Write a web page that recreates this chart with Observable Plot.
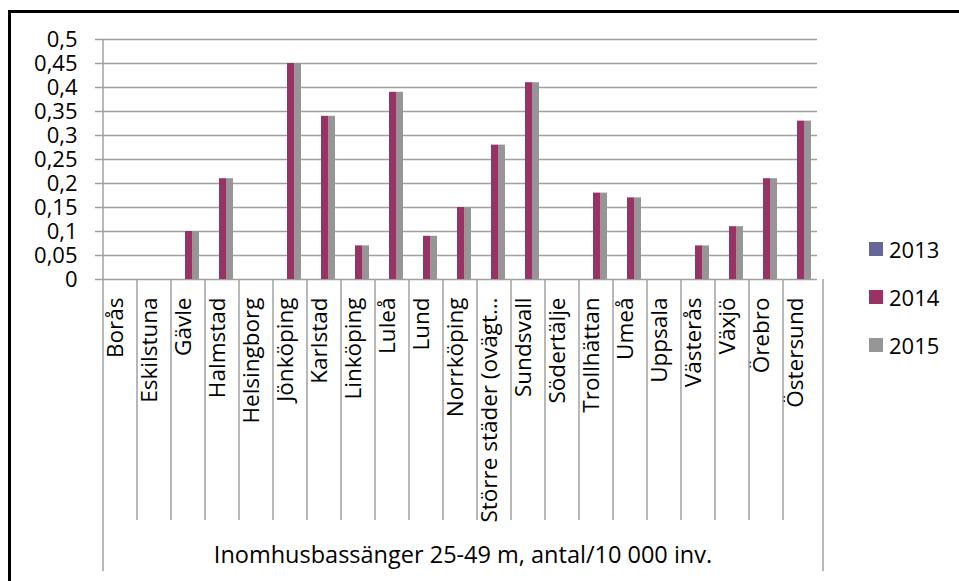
<!DOCTYPE html>
<html><head><meta charset="utf-8">
<script src="https://cdn.jsdelivr.net/npm/d3@7"></script>
<script src="https://cdn.jsdelivr.net/npm/@observablehq/plot@0.6"></script>
<style>
html,body{margin:0;padding:0;background:#fff}
svg{display:block}
</style>
</head><body><div id="chart"></div>
<script>
const categories = ["Borås","Eskilstuna","Gävle","Halmstad","Helsingborg","Jönköping","Karlstad","Linköping","Luleå","Lund","Norrköping","Större städer (ovägt…","Sundsvall","Södertälje","Trollhättan","Umeå","Uppsala","Västerås","Växjö","Örebro","Östersund"];
const series = ["2013","2014","2015"];
const values2013 = [0,0,0,0,0,0,0,0,0,0,0,0,0,0,0,0,0,0,0,0,0];
const values2014 = [0,0,0.10,0.21,0,0.45,0.34,0.07,0.39,0.09,0.15,0.28,0.41,0,0.18,0.17,0,0.07,0.11,0.21,0.33];
const values2015 = [0,0,0.10,0.21,0,0.45,0.34,0.07,0.39,0.09,0.15,0.28,0.41,0,0.18,0.17,0,0.07,0.11,0.21,0.33];
const yTicks = [0,0.05,0.1,0.15,0.2,0.25,0.3,0.35,0.4,0.45,0.5];
const groupLabel = "Inomhusbassänger 25-49 m, antal/10 000 inv.";
const seriesColors = ["#666699","#993366","#969696"];

const seriesValues = [values2013, values2014, values2015];
const data = categories.flatMap((c, i) => series.map((s, k) => ({cat: c, year: s, value: seriesValues[k][i]})));
const fmt = d => String(d).replace(".", ",");
const FONT = "'Open Sans', sans-serif";
const GRID = "#a0a0a0";

const chart = Plot.plot({
  width: 959, height: 581,
  marginLeft: 97, marginRight: 136, marginTop: 39, marginBottom: 302,
  style: {fontFamily: FONT, fontSize: "22px", color: "#000", background: "#fff", overflow: "visible"},
  fx: {domain: categories, padding: 0, axis: null},
  x: {domain: series, paddingInner: 0, paddingOuter: 0.75, axis: null},
  y: {domain: [0, 0.5], axis: null},
  color: {domain: series, range: seriesColors},
  marks: [
    Plot.gridY(yTicks, {stroke: GRID, strokeOpacity: 1, strokeWidth: 1.5}),
    Plot.axisY(yTicks, {tickFormat: fmt, tickSize: 8, tickPadding: 18, stroke: GRID, strokeWidth: 1.5, fontSize: 22, fill: "#000", label: null}),
    Plot.barY(data, {fx: "cat", x: "year", y: "value", fill: "year"}),
    Plot.text(categories, {fx: d => d, text: d => d, frameAnchor: "bottom", rotate: -90, textAnchor: "end", dy: 18, dx: 2, fontSize: 22.5, fill: "#000"})
  ]
});
document.getElementById("chart").appendChild(chart);

const svg = d3.select(chart);
const fx = chart.scale("fx");
const y = chart.scale("y");
const color = chart.scale("color");
const x0 = fx.range[0], x1 = fx.range[1];
const yZero = y.apply(0), yTop = y.apply(0.5);

const deco = svg.append("g").attr("text-anchor", "start");
// category separators
categories.forEach((c, i) => {
  const xx = fx.apply(c);
  deco.append("line").attr("x1", xx).attr("x2", xx)
    .attr("y1", i === 0 ? yTop : yZero).attr("y2", i === 0 ? 571 : 520)
    .attr("stroke", GRID).attr("stroke-width", 1.5);
});
deco.append("line").attr("x1", x1).attr("x2", x1).attr("y1", yZero).attr("y2", 571)
  .attr("stroke", GRID).attr("stroke-width", 1.5);

// group label
deco.append("text").attr("x", (x0 + x1) / 2 + 3).attr("y", 554)
  .attr("text-anchor", "middle").attr("dominant-baseline", "central")
  .attr("font-family", FONT).attr("font-size", 23.5).attr("fill", "#000")
  .text(groupLabel);

// legend
const legendY = [249, 297, 345];
series.forEach((s, k) => {
  deco.append("rect").attr("x", 869).attr("y", legendY[k] - 7).attr("width", 14).attr("height", 14)
    .attr("fill", color.apply(s));
  deco.append("text").attr("x", 889).attr("y", legendY[k])
    .attr("text-anchor", "start").attr("dominant-baseline", "central")
    .attr("font-family", FONT).attr("font-size", 22).attr("fill", "#000")
    .text(s);
});

// outer border
deco.append("rect").attr("x", 9.5).attr("y", 11.5).attr("width", 1000).attr("height", 1000)
  .attr("fill", "none").attr("stroke", "#000").attr("stroke-width", 3);
</script>
</body></html>
